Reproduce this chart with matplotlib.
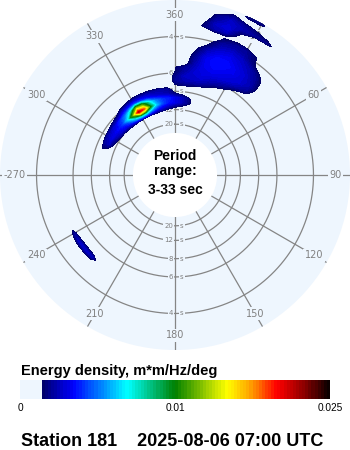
import numpy as np
import matplotlib
matplotlib.use('Agg')
import matplotlib.pyplot as plt
from matplotlib.colors import LinearSegmentedColormap, ListedColormap, BoundaryNorm
from matplotlib.cm import ScalarMappable

# frequency bins (Hz) and direction bins (deg)
freqs = [0.03, 0.04, 0.05, 0.06, 0.07, 0.08, 0.09, 0.10, 0.11, 0.12, 0.13,
         0.14, 0.15, 0.16, 0.17, 0.18, 0.19, 0.20, 0.21, 0.22, 0.23, 0.24,
         0.25, 0.26, 0.27, 0.28, 0.29, 0.30, 0.31, 0.32, 0.33, 0.34]
dirs = np.arange(0, 360, 5)

# grid of the chart
ring_periods = [4, 6, 8, 12, 20]
label_angles = [0, 30, 60, 90, 120, 150, 180, 210, 240, 270, 300, 330]
label_texts = ['360', '30', '60', '90', '120', '150', '180', '210', '240', '-270', '300', '330']

# energy density, units of 1e-4 m*m/Hz/deg
# main swell (NW)
swell_freqs = [0.08, 0.09, 0.10, 0.11, 0.12, 0.13, 0.14]
swell_dirs = [285, 290, 295, 300, 305, 310, 315, 320, 325, 330, 335, 340, 345, 350, 355, 0, 5, 10, 15, 20]
swell_energy = [
    [0, 0, 0, 3, 6, 8, 10, 12, 13, 12, 12, 11, 10, 8, 5, 3, 0, 0, 0, 0],
    [0, 4, 12, 18, 24, 28, 32, 42, 60, 80, 75, 52, 36, 28, 22, 16, 12, 6, 0, 0],
    [0, 10, 26, 30, 32, 36, 44, 68, 120, 215, 185, 100, 62, 44, 36, 32, 26, 18, 8, 0],
    [0, 14, 22, 24, 26, 30, 40, 52, 75, 125, 115, 75, 52, 42, 38, 32, 26, 18, 6, 0],
    [0, 0, 4, 6, 10, 14, 18, 30, 38, 45, 42, 36, 30, 26, 24, 16, 10, 5, 0, 0],
    [0, 0, 0, 0, 0, 0, 6, 12, 16, 20, 22, 22, 22, 22, 20, 5, 0, 0, 0, 0],
    [0, 0, 0, 0, 0, 0, 0, 0, 4, 6, 6, 6, 6, 6, 4, 0, 0, 0, 0, 0],
]

# wind sea (NNE)
sea_freqs = [0.14, 0.15, 0.16, 0.17, 0.18, 0.19, 0.20, 0.21, 0.22, 0.23, 0.24, 0.25, 0.26, 0.27]
sea_dirs = [355, 0, 5, 10, 15, 20, 25, 30, 35, 40, 45, 50]
sea_energy = [
    [0, 14, 16, 15, 12, 8, 3, 0, 0, 0, 0, 0],
    [0, 20, 24, 24, 22, 16, 10, 4, 0, 0, 0, 0],
    [4, 18, 26, 28, 28, 24, 20, 14, 8, 0, 0, 0],
    [0, 14, 22, 28, 30, 28, 26, 22, 14, 6, 0, 0],
    [0, 14, 20, 26, 32, 32, 30, 28, 24, 16, 4, 0],
    [0, 4, 8, 24, 32, 34, 32, 30, 28, 22, 8, 0],
    [0, 0, 8, 22, 32, 36, 34, 32, 28, 24, 10, 0],
    [0, 0, 6, 20, 32, 36, 36, 32, 28, 22, 10, 0],
    [0, 0, 3, 16, 28, 34, 34, 30, 26, 20, 10, 0],
    [0, 0, 0, 12, 24, 30, 32, 28, 24, 16, 6, 0],
    [0, 0, 0, 6, 16, 26, 28, 26, 18, 8, 0, 0],
    [0, 0, 0, 0, 12, 22, 24, 22, 15, 4, 0, 0],
    [0, 0, 0, 0, 6, 16, 20, 20, 14, 0, 0, 0],
    [0, 0, 0, 0, 0, 8, 12, 10, 6, 0, 0, 0],
]

# short waves near the outer edge
short_freqs = [0.27, 0.28, 0.29, 0.30, 0.31, 0.32, 0.33]
short_dirs = [5, 10, 15, 20, 25, 30, 35, 40]
short_energy = [
    [0, 0, 10, 12, 0, 0, 0, 0],
    [0, 14, 24, 26, 10, 0, 0, 0],
    [0, 10, 26, 30, 16, 4, 0, 0],
    [0, 4, 22, 28, 24, 20, 18, 8],
    [0, 0, 18, 26, 20, 14, 10, 0],
    [0, 0, 8, 18, 8, 4, 0, 0],
    [0, 0, 0, 6, 16, 18, 0, 0],
]

# small SW patch
sw_freqs = [0.19, 0.20, 0.21]
sw_dirs = [220, 225, 230, 235, 240, 245]
sw_energy = [
    [0, 6, 8, 8, 6, 0],
    [0, 24, 28, 27, 20, 0],
    [0, 6, 8, 8, 5, 0],
]

BG = '#eef6fe'
GRID = '#858585'

energy = np.zeros((len(freqs), len(dirs)))


def place(pf, pd, rows):
    for f, row in zip(pf, rows):
        fi = int(np.argmin(np.abs(np.array(freqs) - f)))
        for d, v in zip(pd, row):
            di = int(np.where(dirs == d)[0][0])
            energy[fi, di] = max(energy[fi, di], v * 1e-4)


place(swell_freqs, swell_dirs, swell_energy)
place(sea_freqs, sea_dirs, sea_energy)
place(short_freqs, short_dirs, short_energy)
place(sw_freqs, sw_dirs, sw_energy)

# close the circle
th = np.deg2rad(np.append(dirs, 360))
e_closed = np.hstack([energy, energy[:, :1]])
TH, R = np.meshgrid(th, freqs)

# colour scale: 0..0.01 and 0.01..0.025 each take half of the bar
bounds = np.concatenate([np.linspace(0, 0.01, 51), np.linspace(0.01, 0.025, 51)[1:]])
grad = LinearSegmentedColormap.from_list('spec', [
    (0.0, '#000066'), (32 / 290, '#0000ff'), (86 / 290, '#00ffff'),
    (134 / 290, '#008000'), (186 / 290, '#ffff00'), (209 / 290, '#ffa500'),
    (236 / 290, '#ff0000'), (264 / 290, '#8b0000'), (1.0, '#000000')])
n_blank = 7
colors = []
for i in range(100):
    if i < n_blank:
        colors.append(BG)
    else:
        x = 20 + 310 * (i + 0.5) / 100
        colors.append(grad(np.clip((x - 41) / 290, 0, 1)))

fig = plt.figure(figsize=(3.5, 4.5), dpi=100)
ax = fig.add_axes([0, 100 / 450, 1, 350 / 450], projection='polar')
ax.set_theta_zero_location('N')
ax.set_theta_direction(-1)
ax.set_rorigin(-0.0659)
ax.set_rlim(0.03, 1 / 3)
ax.set_facecolor(BG)
ax.grid(False)
ax.set_xticks([])
ax.set_yticks([])
for s in ax.spines.values():
    s.set_visible(False)
    s.set_linewidth(0)

# rays and rings
for a in label_angles:
    ax.plot([np.deg2rad(a)] * 2, [0.03, 1 / 3], color=GRID, lw=0.9, zorder=2)
circ = np.linspace(0, 2 * np.pi, 361)
for p in ring_periods:
    ax.plot(circ, np.full_like(circ, 1 / p), color=GRID, lw=0.9, zorder=2)

for a, t in zip(label_angles, label_texts):
    ax.text(np.deg2rad(a), 0.300, t, ha='center', va='center', fontsize=7,
            color='#808080', zorder=3,
            bbox=dict(boxstyle='square,pad=0.15', fc=BG, ec='none'))

for p in ring_periods:
    for a in (0, np.pi):
        ax.annotate(str(p), (a, 1 / p), xytext=(-1.2, 0), textcoords='offset points',
                    ha='right', va='center', fontsize=5, color='#808080', zorder=3,
                    bbox=dict(boxstyle='square,pad=0.15', fc=BG, ec='none'))
        ax.annotate('s', (a, 1 / p), xytext=(3.5, 0), textcoords='offset points',
                    ha='left', va='center', fontsize=5, color='#808080', zorder=3,
                    bbox=dict(boxstyle='square,pad=0.15', fc=BG, ec='none'))

ax.contourf(TH, R, e_closed, levels=bounds[n_blank:], colors=colors[n_blank:], zorder=5)

bold = dict(fontweight='bold', family='Liberation Sans', color='black')
fig.text(0.5, 1 - 159.5 / 450, 'Period', ha='center', va='baseline', fontsize=10, **bold)
fig.text(0.5, 1 - 174.5 / 450, 'range:', ha='center', va='baseline', fontsize=10, **bold)
fig.text(0.5, 1 - 194 / 450, '3-33 sec', ha='center', va='baseline', fontsize=10, **bold)

fig.text(21 / 350, 1 - 375 / 450, 'Energy density, m*m/Hz/deg', ha='left', va='baseline',
         fontsize=10.5, **bold)

cax = fig.add_axes([20 / 350, 1 - 399 / 450, 310 / 350, 19 / 450])
sm = ScalarMappable(norm=BoundaryNorm(bounds, 100), cmap=ListedColormap(colors))
cb = fig.colorbar(sm, cax=cax, orientation='horizontal', ticks=[0, 0.01, 0.025],
                  spacing='uniform')
cb.outline.set_visible(False)
cb.ax.minorticks_off()
cb.ax.set_xticklabels(['0', '0.01', '0.025'], family='Liberation Sans', fontsize=7.3)
cb.ax.tick_params(which='both', length=0, pad=3)

fig.text(21 / 350, 1 - 446 / 450, 'Station 181    2025-08-06 07:00 UTC', ha='left',
         va='baseline', fontsize=13, **bold)

fig.savefig('out.png', dpi=100, facecolor='white')
